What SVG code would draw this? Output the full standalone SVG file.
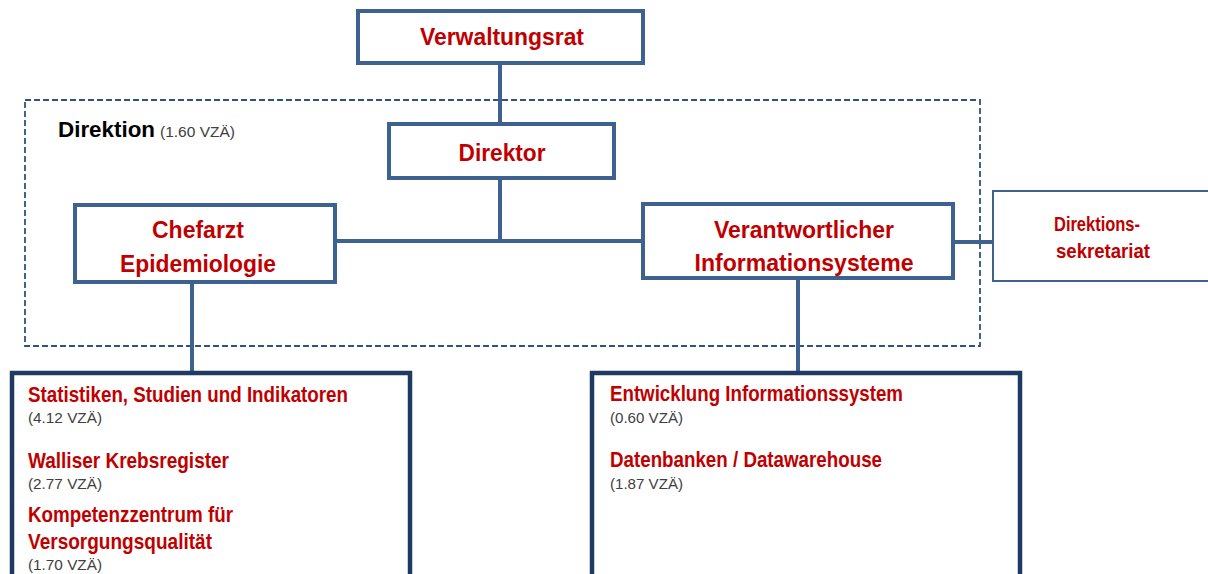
<svg xmlns="http://www.w3.org/2000/svg" width="1208" height="574" viewBox="0 0 1208 574">
<style>
.box{fill:#fff;stroke:#3E6290;stroke-width:4}
.thin{fill:#fff;stroke:#3E6290;stroke-width:2}
.unit{fill:#fff;stroke:#1F3A60;stroke-width:4.5}
.con{fill:none;stroke:#3E6290;stroke-width:4}
.t{font-family:"Liberation Sans Narrow","Liberation Sans",Arial,sans-serif;font-weight:bold;fill:#C00000}
.c{text-anchor:middle}
.g{font-family:"Liberation Sans Narrow","Liberation Sans",Arial,sans-serif;fill:#404040}
</style>
<rect width="1208" height="574" fill="#fff"/>
<g id="direktion-group">
<rect x="25" y="100" width="955" height="246" fill="none" stroke="#2F5283" stroke-width="1.8" stroke-dasharray="6,3"/>
<text x="58" y="137" font-family="Liberation Sans Narrow, Liberation Sans, Arial, sans-serif" font-weight="bold" font-size="22" fill="#000" textLength="97" lengthAdjust="spacingAndGlyphs">Direktion</text>
<text class="g" x="160" y="137" font-size="14" textLength="75" lengthAdjust="spacingAndGlyphs">(1.60 VZÄ)</text>
</g>
<g id="connectors">
<line class="con" x1="500" y1="63" x2="500" y2="123"/>
<line class="con" x1="500" y1="178" x2="500" y2="241"/>
<line class="con" x1="335" y1="241" x2="643" y2="241"/>
<line class="con" x1="953" y1="242" x2="993" y2="242"/>
<line class="con" x1="192" y1="282" x2="192" y2="372"/>
<line class="con" x1="798" y1="278" x2="798" y2="372"/>
</g>
<g id="verwaltungsrat">
<rect class="box" x="358" y="11" width="285" height="52"/>
<text class="t c" x="502" y="45" font-size="23.5" textLength="164" lengthAdjust="spacingAndGlyphs">Verwaltungsrat</text>
</g>
<g id="direktor">
<rect class="box" x="389" y="124" width="225" height="54"/>
<text class="t c" x="502" y="161" font-size="23.5" textLength="87" lengthAdjust="spacingAndGlyphs">Direktor</text>
</g>
<g id="chefarzt">
<rect class="box" x="75" y="205" width="260" height="77"/>
<text class="t c" x="198" y="238" font-size="23.5" textLength="92" lengthAdjust="spacingAndGlyphs">Chefarzt</text>
<text class="t c" x="198" y="272" font-size="23.5" textLength="156" lengthAdjust="spacingAndGlyphs">Epidemiologie</text>
</g>
<g id="verantwortlicher">
<rect class="box" x="643" y="204" width="310" height="74"/>
<text class="t c" x="804" y="238" font-size="23.5" textLength="180" lengthAdjust="spacingAndGlyphs">Verantwortlicher</text>
<text class="t c" x="804" y="271" font-size="23.5" textLength="219" lengthAdjust="spacingAndGlyphs">Informationsysteme</text>
</g>
<g id="sekretariat">
<rect class="thin" x="993" y="191" width="220" height="90"/>
<text class="t c" x="1097" y="231" font-size="20" textLength="86" lengthAdjust="spacingAndGlyphs">Direktions-</text>
<text class="t c" x="1103" y="258" font-size="20" textLength="94" lengthAdjust="spacingAndGlyphs">sekretariat</text>
</g>
<g id="epidemiologie-units">
<rect class="unit" x="12" y="373" width="398" height="210"/>
<text class="t" x="28" y="402" font-size="21.5" textLength="320" lengthAdjust="spacingAndGlyphs">Statistiken, Studien und Indikatoren</text>
<text class="g" x="28" y="423" font-size="15" textLength="74" lengthAdjust="spacingAndGlyphs">(4.12 VZÄ)</text>
<text class="t" x="28" y="468" font-size="21.5" textLength="201" lengthAdjust="spacingAndGlyphs">Walliser Krebsregister</text>
<text class="g" x="28" y="489" font-size="15" textLength="74" lengthAdjust="spacingAndGlyphs">(2.77 VZÄ)</text>
<text class="t" x="28" y="522" font-size="21.5" textLength="205" lengthAdjust="spacingAndGlyphs">Kompetenzzentrum für</text>
<text class="t" x="28" y="549" font-size="21.5" textLength="184" lengthAdjust="spacingAndGlyphs">Versorgungsqualität</text>
<text class="g" x="28" y="570" font-size="15" textLength="74" lengthAdjust="spacingAndGlyphs">(1.70 VZÄ)</text>
</g>
<g id="informatik-units">
<rect class="unit" x="592" y="373" width="428" height="210"/>
<text class="t" x="610" y="401" font-size="21.5" textLength="293" lengthAdjust="spacingAndGlyphs">Entwicklung Informationssystem</text>
<text class="g" x="610" y="423" font-size="15" textLength="73" lengthAdjust="spacingAndGlyphs">(0.60 VZÄ)</text>
<text class="t" x="610" y="467" font-size="21.5" textLength="272" lengthAdjust="spacingAndGlyphs">Datenbanken / Datawarehouse</text>
<text class="g" x="610" y="489" font-size="15" textLength="73" lengthAdjust="spacingAndGlyphs">(1.87 VZÄ)</text>
</g>
</svg>
